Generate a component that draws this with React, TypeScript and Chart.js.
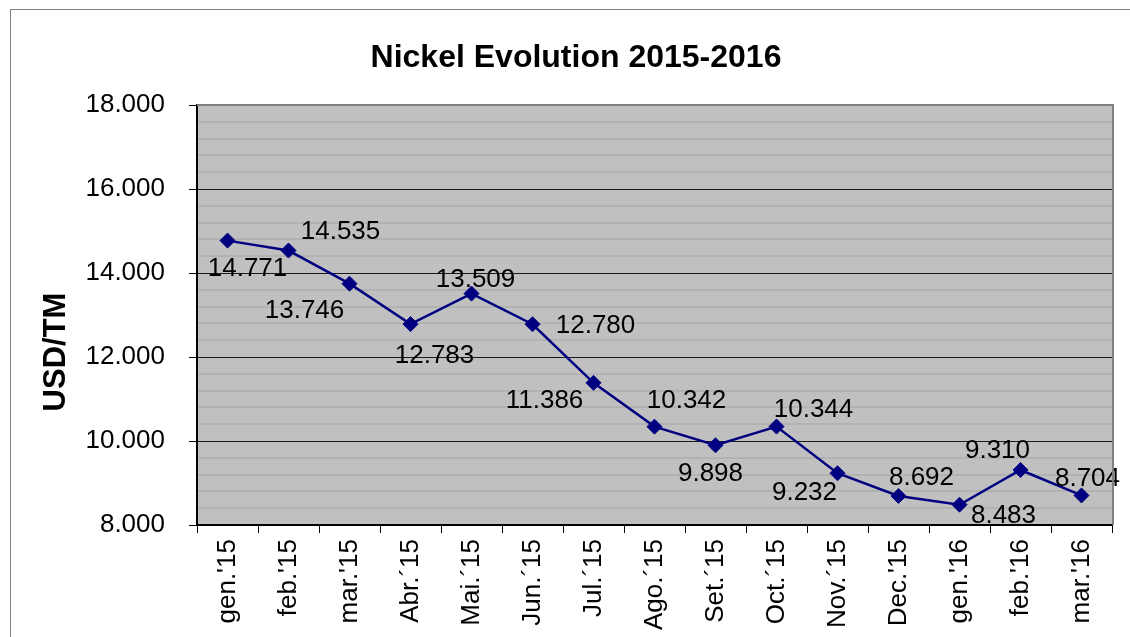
import { useEffect, useRef } from 'react';
import { Chart, registerables } from 'chart.js';

Chart.register(...registerables);

const chartTitle = 'Nickel Evolution 2015-2016';
const yAxisTitle = 'USD/TM';
const months = [
  "gen.'15", "feb.'15", "mar.'15", 'Abr.´15', 'Mai.´15', 'Jun.´15', 'Jul.´15', 'Ago.´15',
  'Set.´15', 'Oct.´15', 'Nov.´15', "Dec.'15", "gen.'16", "feb.'16", "mar.'16",
];
const nickelPrices = [14771, 14535, 13746, 12783, 13509, 12780, 11386, 10342, 9898, 10344, 9232, 8692, 8483, 9310, 8704];
const yMin = 8000;
const yMax = 18000;
const majorStep = 2000;
const minorStep = 400;
// label placement relative to each point (dx, dy in px)
const labelOffsets: [number, number][] = [
  [20, 27], [52, -20], [-45, 26], [24, 31], [4, -15], [63, 1], [-49, 17], [32, -27],
  [-5, 28], [37, -18], [-33, 19], [23, -19], [44, 10], [-23, -20], [6, -18],
];

const FONT = '"Liberation Sans", Arial, Helvetica, sans-serif';

const fmt = (v: number) => {
  const t = Math.floor(v / 1000);
  const r = Math.round(v % 1000);
  return `${t}.${String(r).padStart(3, '0')}`;
};

const decorPlugin = {
  id: 'decor',
  beforeDraw(chart: any) {
    const { ctx, chartArea: a } = chart;
    ctx.save();
    ctx.fillStyle = '#ffffff';
    ctx.fillRect(0, 0, chart.width, chart.height);
    ctx.fillStyle = '#C0C0C0';
    ctx.fillRect(a.left, a.top, a.right - a.left, a.bottom - a.top);
    ctx.strokeStyle = '#808080';
    ctx.lineWidth = 1;
    ctx.strokeRect(10.5, 9.5, 1130, 700);
    ctx.restore();
  },
  afterDatasetsDraw(chart: any) {
    const { ctx } = chart;
    const meta = chart.getDatasetMeta(0);
    ctx.save();
    ctx.font = `26px ${FONT}`;
    ctx.fillStyle = '#000000';
    ctx.textAlign = 'center';
    ctx.textBaseline = 'middle';
    meta.data.forEach((pt: any, i: number) => {
      const [dx, dy] = labelOffsets[i];
      ctx.fillText(fmt(nickelPrices[i]), pt.x + dx, pt.y + dy + 1);
    });
    ctx.restore();
  },
  afterDraw(chart: any) {
    const { ctx, chartArea: a } = chart;
    ctx.save();
    ctx.strokeStyle = '#808080';
    ctx.lineWidth = 2;
    ctx.beginPath();
    ctx.moveTo(a.left, a.top);
    ctx.lineTo(a.right + 1, a.top);
    ctx.lineTo(a.right + 1, a.bottom);
    ctx.stroke();
    // main title
    ctx.fillStyle = '#000000';
    ctx.font = `bold 32px ${FONT}`;
    ctx.textAlign = 'center';
    ctx.textBaseline = 'middle';
    ctx.fillText(chartTitle, 576, 58);
    // y axis title
    ctx.translate(55, 352);
    ctx.rotate(-Math.PI / 2);
    ctx.font = `bold 31px ${FONT}`;
    ctx.fillText(yAxisTitle, 0, 1);
    ctx.restore();
  },
};

export default function App() {
  const ref = useRef<HTMLCanvasElement>(null);
  useEffect(() => {
    if (!ref.current) return;
    const chart = new Chart(ref.current, {
      type: 'line',
      data: {
        labels: months,
        datasets: [
          {
            data: nickelPrices,
            borderColor: '#000080',
            backgroundColor: '#000080',
            borderWidth: 2.5,
            pointStyle: 'rectRot',
            pointRadius: 7.5,
            pointBorderWidth: 1,
            pointBorderColor: '#000080',
            pointBackgroundColor: '#000080',
            tension: 0,
            fill: false,
          },
        ],
      },
      options: {
        responsive: false,
        animation: false,
        layout: { padding: { top: 105, left: 0, right: 18, bottom: 0 } },
        plugins: {
          legend: { display: false },
          title: { display: false },
          tooltip: { enabled: false },
        },
        scales: {
          x: {
            type: 'category',
            offset: true,
            afterFit: (s: any) => {
              s.height = 112;
            },
            grid: {
              display: true,
              offset: true,
              drawOnChartArea: false,
              drawTicks: true,
              tickLength: 8,
              color: '#000000',
              lineWidth: 1,
            },
            border: { display: true, color: '#000000', width: 2 },
            ticks: {
              autoSkip: false,
              maxRotation: 90,
              minRotation: 90,
              padding: 6,
              color: '#000000',
              font: { family: FONT, size: 26 },
            },
          },
          y: {
            min: yMin,
            max: yMax,
            afterFit: (s: any) => {
              s.width = 197;
            },
            grid: {
              drawTicks: true,
              tickLength: 8,
              color: (c: any) => (c.tick && c.tick.value % majorStep === 0 ? '#1a1a1a' : '#B2B2B2'),
              tickColor: (c: any) => (c.tick && c.tick.value % majorStep === 0 ? '#000000' : 'rgba(0,0,0,0)'),
              lineWidth: (c: any) => (c.tick && c.tick.value % majorStep === 0 ? 1 : 2),
            },
            border: { display: true, color: '#000000', width: 2 },
            ticks: {
              stepSize: minorStep,
              autoSkip: false,
              padding: 24,
              color: '#000000',
              font: { family: FONT, size: 26 },
              callback: (v: any) => (Number(v) % majorStep === 0 ? fmt(Number(v)) : ''),
            },
          },
        },
      },
      plugins: [decorPlugin],
    });
    return () => chart.destroy();
  }, []);
  return (
    <div style={{ position: 'absolute', left: 0, top: 0, width: 1130, height: 637 }}>
      <canvas ref={ref} width={1130} height={637} style={{ display: 'block' }} />
    </div>
  );
}
